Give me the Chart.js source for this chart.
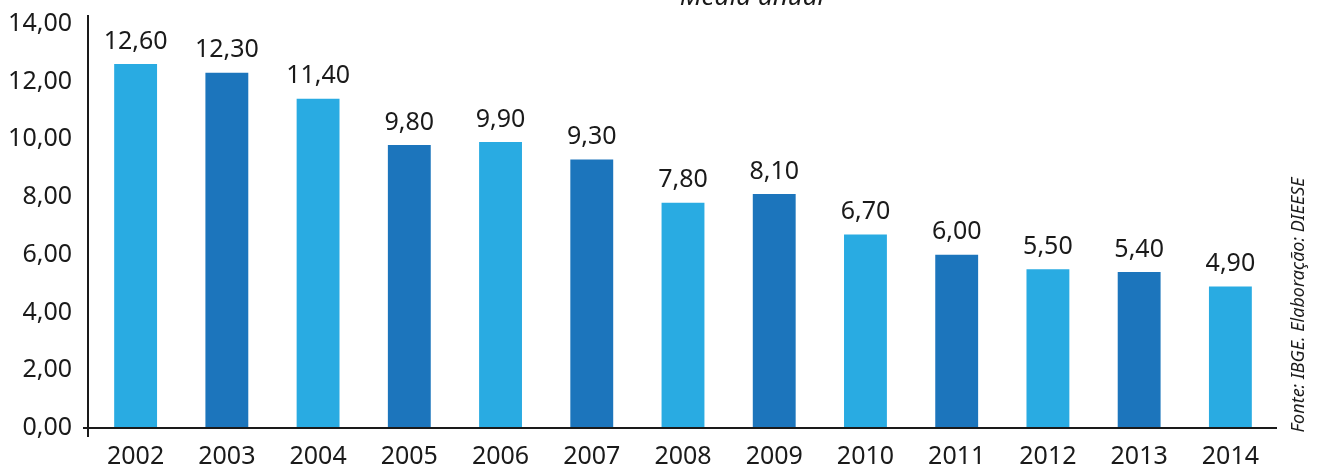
<!DOCTYPE html>
<html>
<head>
<meta charset="utf-8">
<script src="https://cdn.jsdelivr.net/npm/chart.js@4.4.1/dist/chart.umd.min.js"></script>
<style>
  html, body { margin: 0; padding: 0; background: #fff; }
  #wrap { width: 1319px; height: 467px; }
</style>
</head>
<body>
<div id="wrap"><canvas id="chart" width="1319" height="467"></canvas></div>
<script>
// taxa média anual
const years = ["2002", "2003", "2004", "2005", "2006", "2007", "2008", "2009", "2010", "2011", "2012", "2013", "2014"];
const values = [12.6, 12.3, 11.4, 9.8, 9.9, 9.3, 7.8, 8.1, 6.7, 6.0, 5.5, 5.4, 4.9];
const yTicks = [0, 2, 4, 6, 8, 10, 12, 14];
const title = "Média anual";
const source = "Fonte: IBGE. Elaboração: DIEESE";

const LIGHT = "#29abe2";
const DARK = "#1c75bc";
const TEXT = "#1a1a1a";
const FONT = "'Noto Sans', sans-serif";

const fmt = (v) => v.toFixed(2).replace(".", ",");

// rótulos, eixos e textos extras
const extras = {
  id: "extras",
  afterDatasetsDraw(chart) {
    const { ctx, chartArea } = chart;
    const meta = chart.getDatasetMeta(0);
    ctx.save();
    ctx.fillStyle = TEXT;
    ctx.font = "25px " + FONT;
    ctx.textAlign = "center";
    ctx.textBaseline = "bottom";
    meta.data.forEach((bar, i) => {
      ctx.fillText(fmt(values[i]), bar.x, bar.y - 10);
    });

    // eixos
    const yZero = chart.scales.y.getPixelForValue(0);
    const axisX = chartArea.left - 2;
    ctx.strokeStyle = "#1a1a1a";
    ctx.lineWidth = 2;
    ctx.beginPath();
    ctx.moveTo(axisX, chartArea.top);
    ctx.lineTo(axisX, yZero + 9);
    ctx.moveTo(axisX - 5, yZero);
    ctx.lineTo(chartArea.right + 1, yZero);
    ctx.stroke();

    // título cortado no topo
    ctx.font = "italic 26px " + FONT;
    ctx.textBaseline = "alphabetic";
    ctx.fillText(title, 752, 5);

    // fonte na lateral
    ctx.translate(1299, 305);
    ctx.rotate(-Math.PI / 2);
    ctx.font = "italic 18px " + FONT;
    ctx.textBaseline = "middle";
    ctx.fillText(source, 0, 0);
    ctx.restore();
  },
};

new Chart(document.getElementById("chart").getContext("2d"), {
  type: "bar",
  data: {
    labels: years,
    datasets: [
      {
        data: values,
        backgroundColor: years.map((_, i) => (i % 2 === 0 ? LIGHT : DARK)),
        barPercentage: 0.47,
        categoryPercentage: 1,
      },
    ],
  },
  options: {
    responsive: false,
    animation: false,
    layout: { padding: { top: 15, right: 43, left: 0, bottom: 0 } },
    plugins: {
      legend: { display: false },
      tooltip: { enabled: false },
    },
    scales: {
      x: {
        grid: { display: false },
        border: { display: false },
        ticks: {
          color: TEXT,
          font: { family: FONT, size: 25 },
          padding: 6,
          maxRotation: 0,
        },
        afterFit: (scale) => {
          scale.height = 39;
        },
      },
      y: {
        min: 0,
        max: 14.3,
        grid: { display: false, drawTicks: true, tickLength: 18 },
        border: { display: false },
        afterBuildTicks: (scale) => {
          scale.ticks = yTicks.map((v) => ({ value: v }));
        },
        ticks: {
          color: TEXT,
          font: { family: FONT, size: 25, lineHeight: 1 },
          padding: 0,
          callback: (v) => fmt(v),
        },
        afterFit: (scale) => {
          scale.width = 90;
        },
      },
    },
  },
  plugins: [extras],
});
</script>
</body>
</html>
